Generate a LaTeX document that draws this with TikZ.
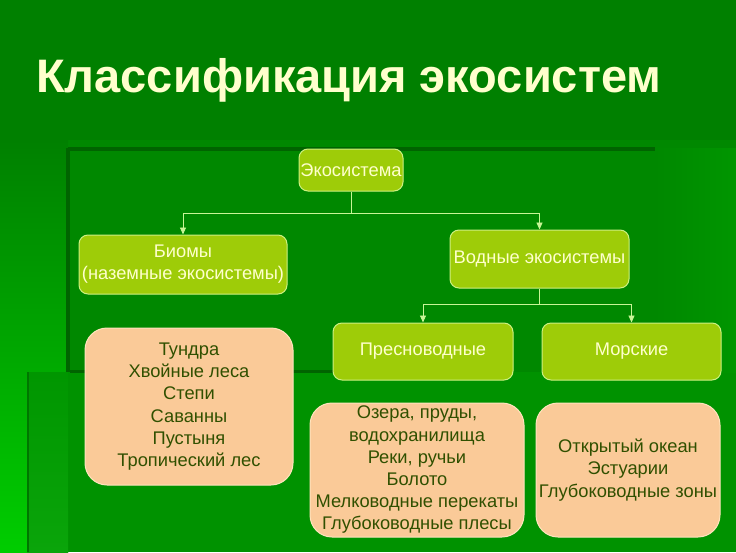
\documentclass[tikz,border=0pt]{standalone}
\usepackage{fontspec}
\setmainfont{Liberation Sans}
\usetikzlibrary{arrows.meta}
\definecolor{bgmain}{RGB}{0,136,0}
\definecolor{bgtop}{RGB}{0,128,0}
\definecolor{bgleft}{RGB}{0,150,0}
\definecolor{bgleftb}{RGB}{0,205,0}
\definecolor{bgline}{RGB}{0,100,0}
\definecolor{bglow}{RGB}{0,146,0}
\definecolor{bgmid}{RGB}{10,165,10}
\definecolor{gfill}{RGB}{158,204,8}
\definecolor{gdraw}{RGB}{205,240,130}
\definecolor{gtext}{RGB}{255,255,205}
\definecolor{pfill}{RGB}{250,202,152}
\definecolor{pdraw}{RGB}{255,228,190}
\definecolor{ptext}{RGB}{48,80,0}
\definecolor{conn}{RGB}{200,245,150}
\tikzset{
  gbox/.style={draw=gdraw, line width=1pt, fill=gfill, rounded corners=9pt,
    text=gtext, font=\fontsize{18.3}{22}\selectfont, align=center, inner sep=1pt},
  pbox/.style={draw=pdraw, line width=1pt, fill=pfill, rounded corners=22pt,
    text=ptext, font=\fontsize{18.3}{22.2}\selectfont, align=center, inner sep=1pt},
  connline/.style={draw=conn, line width=0.9pt},
  connarr/.style={connline, -{Triangle[width=6pt,length=7pt]}}
}
\begin{document}
\begin{tikzpicture}[x=1pt,y=-1pt]
\useasboundingbox (0,0) rectangle (736,552);
% background
\fill[bgmain] (0,0) rectangle (736,552);
\fill[bgtop] (0,0) rectangle (736,140);
\shade[top color=bgtop, bottom color=bgleftb] (0,140) rectangle (68,552);
\fill[bglow] (68,372) rectangle (736,552);
\shade[top color=bgleft, bottom color=bgmid] (27,372) rectangle (68,552);
\fill[bgmain] (68,148) rectangle (655,372);
\shade[left color=bgmain, right color=bgleft] (655,148) rectangle (736,372);
\fill[bgline] (68,147) rectangle (655,151);
\fill[bgline] (66,148) rectangle (70,372);
\fill[bgline] (70,370) rectangle (333,373);
\fill[bgline!60!bglow] (27,372) rectangle (29,552);
% title
\node[anchor=base west, text=gtext, font=\fontsize{47}{50}\selectfont\bfseries, inner sep=0pt]
  (title) at (36,92) {Классификация экосистем};
% boxes
\node[gbox, minimum width=104pt, minimum height=42pt] (eco) at (351,170) {Экосистема};
\node[gbox, minimum width=208pt, minimum height=59pt] (bio) at (183,264.5) {Биомы\\(наземные экосистемы)};
\node[gbox, minimum width=179pt, minimum height=58pt] (vod) at (539.5,259) {Водные экосистемы};
\node[gbox, minimum width=180pt, minimum height=57pt] (pres) at (423,351.5) {Пресноводные};
\node[gbox, minimum width=179pt, minimum height=57pt] (mor) at (631.5,351.5) {Морские};
\node[pbox, minimum width=208pt, minimum height=157pt] (tun) at (189,406.5)
  {Тундра\\Хвойные леса\\Степи\\Саванны\\Пустыня\\Тропический лес};
\node[pbox, minimum width=214pt, minimum height=134pt] (oz) at (417,470)
  {Озера, пруды,\\водохранилища\\Реки, ручьи\\Болото\\Мелководные перекаты\\Глубоководные плесы};
\node[pbox, minimum width=184pt, minimum height=134pt] (ok) at (628,470)
  {Открытый океан\\Эстуарии\\Глубоководные зоны};
% connectors
\coordinate (j1) at (351,213);
\coordinate (j2) at (539.5,304);
\draw[connline] (eco.south) -- (j1);
\draw[connarr] (j1) -| (bio.north);
\draw[connarr] (j1) -| (vod.north);
\draw[connline] (vod.south) -- (j2);
\draw[connarr] (j2) -| (pres.north);
\draw[connarr] (j2) -| (mor.north);
\end{tikzpicture}
\end{document}
